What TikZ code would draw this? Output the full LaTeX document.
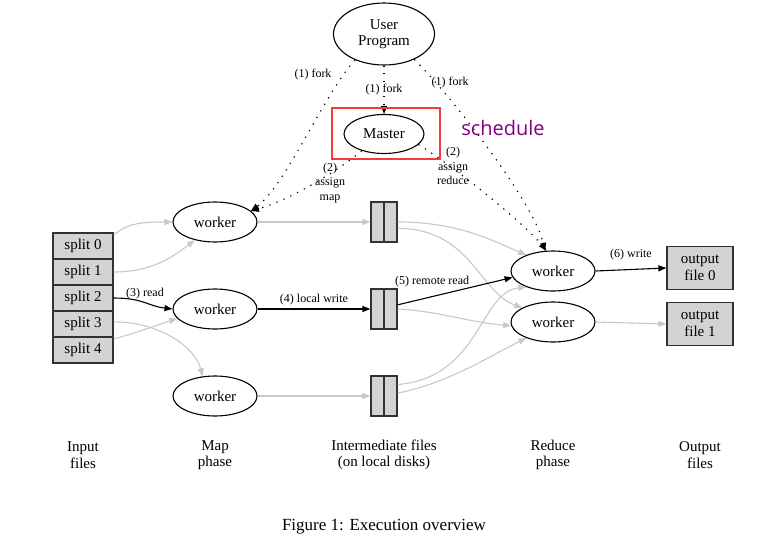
\documentclass[tikz,border=0pt]{standalone}
\usepackage{fontspec}
\setmainfont{Liberation Serif}
\newfontfamily\schedfont{Open Sans}
\usepackage{tikz}
\usetikzlibrary{shapes.geometric, arrows.meta}
\definecolor{edgegray}{RGB}{200,200,200}
\definecolor{boxgray}{RGB}{211,211,211}
\definecolor{boxline}{RGB}{50,50,50}
\definecolor{highlight}{RGB}{240,60,60}
\definecolor{schedpurple}{RGB}{128,0,128}
\tikzstyle{worker} = [ellipse, minimum width=84pt, minimum height=40pt, inner sep=0pt, draw=black, line width=1.1pt, font=\fontsize{15}{16.5}\selectfont]
\tikzstyle{program} = [worker, minimum width=101pt, minimum height=62pt, align=center]
\tikzstyle{master} = [worker, minimum width=80pt, minimum height=39pt]
\tikzstyle{split} = [rectangle, minimum width=60pt, minimum height=26pt, inner sep=0pt, draw=boxline, fill=boxgray, line width=1.3pt, font=\fontsize{15}{16.5}\selectfont]
\tikzstyle{interfile} = [rectangle, minimum width=26pt, minimum height=40pt, inner sep=0pt, draw=boxline, fill=boxgray, line width=1.3pt, path picture={\draw[boxline, line width=1.3pt] (path picture bounding box.north) -- (path picture bounding box.south);}]
\tikzstyle{outfile} = [split, minimum width=66pt, minimum height=43pt, align=center]
\tikzstyle{phase} = [align=center, font=\fontsize{15}{16.5}\selectfont]
\tikzstyle{edgelabel} = [align=center, inner sep=1pt, font=\fontsize{12}{14.5}\selectfont]
\tikzstyle{arrow} = [line width=1.1pt, black, -{Triangle[length=8pt, width=6pt]}]
\tikzstyle{greyarrow} = [arrow, edgegray]
\tikzstyle{dotarrow} = [arrow, dash pattern=on 1.3pt off 6.3pt]

\begin{document}
\begin{tikzpicture}[x=1pt, y=-1pt, node distance=26pt]
\useasboundingbox (0,0) rectangle (783,551);

\node (user) [program] at (384,34) {User\\Program};
\node (master) [master] at (384,134) {Master};

\node (split0) [split] at (83,246) {split 0};
\node (split1) [split, below of=split0] {split 1};
\node (split2) [split, below of=split1] {split 2};
\node (split3) [split, below of=split2] {split 3};
\node (split4) [split, below of=split3] {split 4};

\node (map1) [worker] at (215,222) {worker};
\node (map2) [worker, below of=map1, yshift=-61pt] {worker};
\node (map3) [worker, below of=map2, yshift=-61pt] {worker};

\node (inter1) [interfile] at (384,222) {};
\node (inter2) [interfile, below of=inter1, yshift=-61pt] {};
\node (inter3) [interfile, below of=inter2, yshift=-61pt] {};

\node (reduce1) [worker] at (553,271) {worker};
\node (reduce2) [worker, below of=reduce1, yshift=-25pt] {worker};

\node (out0) [outfile] at (700,268) {output\\file 0};
\node (out1) [outfile, below of=out0, yshift=-30pt] {output\\file 1};

% phase captions
\node (inlab) [phase] at (83,455) {Input\\files};
\node (maplab) [phase] at (215,455) {Map\\phase};
\node (interlab) [phase] at (384,455) {Intermediate files\\(on local disks)};
\node (redlab) [phase] at (553,455) {Reduce\\phase};
\node (outlab) [phase] at (700,455) {Output\\files};
\node (caption) [font=\fontsize{17}{20}\selectfont] at (384,527) {Figure 1: Execution overview};

% fork and assign
\draw [dotarrow] (user.south) -- node[edgelabel, fill=white] {(1) fork} (master.north);
\draw [dotarrow] (user.222) .. controls +(-30,32) and +(35,-26) .. (map1.17);
\draw [dotarrow] (master.217) .. controls +(-30,25) and +(35,-10) .. (map1.17);
\draw [dotarrow] (user.320) .. controls +(41,41) and +(-10,-46) .. (reduce1.112);
\draw [dotarrow] (master.-17) .. controls +(40,25) and +(-20,-25) .. (reduce1.108);
\node (forkleft) [edgelabel] at (313,75) {(1) fork};
\node (forkright) [edgelabel] at (450,83) {(1) fork};
\node (assignmap) [edgelabel] at (330,183) {(2)\\assign\\map};
\node (assignred) [edgelabel] at (453,166) {(2)\\assign\\reduce};

% map phase
\draw [greyarrow] (split0.20) .. controls +(15,-12) and +(-30,0) .. (map1.west);
\draw [greyarrow] (split1.east) .. controls +(40,0) and +(-20,15) .. (map1.222);
\draw [arrow] (split2.east) .. controls +(30,0) and +(-25,-3) .. node[edgelabel, above=2pt] {(3) read} (map2.west);
\draw [greyarrow] (split3.4) .. controls +(45,0) and +(-8,-30) .. (map3.122);
\draw [greyarrow] (split4.20) .. controls +(20,-5) and +(-15,5) .. (map2.194);

\draw [greyarrow] (map1.east) -- (inter1.west);
\draw [arrow] (map2.east) -- node[edgelabel, above=2pt] {(4) local write} (inter2.west);
\draw [greyarrow] (map3.east) -- (inter3.west);

% reduce phase
\draw [greyarrow] (inter1.east) .. controls +(60,0) and +(-35,-15) .. (reduce1.149);
\draw [greyarrow] (inter1.-25) .. controls +(73,0) and +(-43,-15) .. (reduce2.155);
\draw [arrow] (inter2.17) -- node[edgelabel, pos=0.3, above=8pt] {(5) remote read} (reduce1.189);
\draw [greyarrow] (inter2.east) .. controls +(40,2) and +(-40,-3) .. (reduce2.185);
\draw [greyarrow] (inter3.40) .. controls +(83,-7) and +(-47,5) .. (reduce1.211);
\draw [greyarrow] (inter3.12) .. controls +(50,-10) and +(-40,20) .. (reduce2.211);

\draw [arrow] (reduce1.east) -- node[edgelabel, above=8pt] {(6) write} (out0.west);
\draw [greyarrow] (reduce2.east) -- (out1.west);

% highlight
\draw [highlight, line width=2.5pt] (332,108) rectangle (440,159);
\node (schedule) [text=schedpurple, font=\schedfont\fontsize{20}{24}\selectfont] at (503,128) {schedule};

\end{tikzpicture}
\end{document}
